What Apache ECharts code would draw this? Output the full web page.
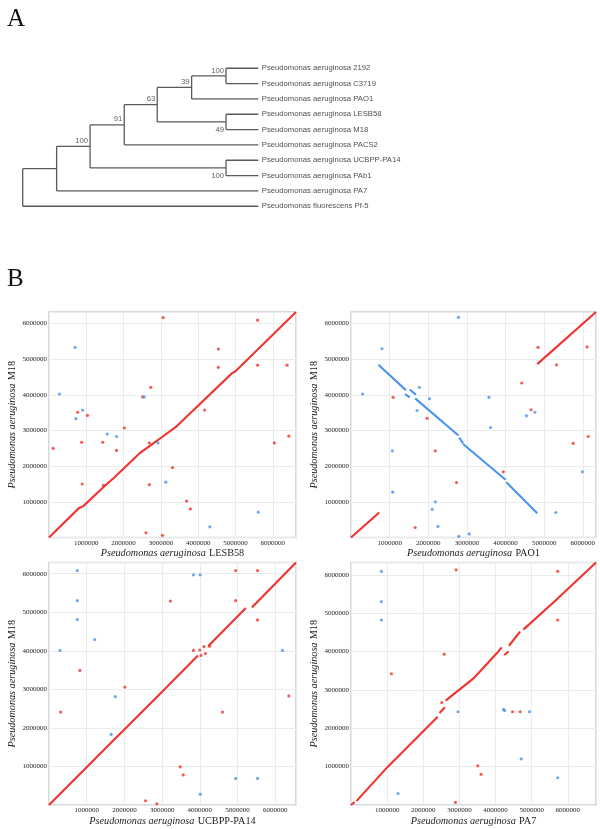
<!DOCTYPE html>
<html><head><meta charset="utf-8">
<script src="https://cdn.jsdelivr.net/npm/echarts@6/dist/echarts.min.js"></script>
<style>html,body{margin:0;padding:0;background:#fff}#c{width:600px;height:829px}</style>
</head><body><div id="c"></div><script>
// ---------- Panel A: phylogenetic tree ----------
const leafNames = [
  'Pseudomonas aeruginosa 2192',
  'Pseudomonas aeruginosa C3719',
  'Pseudomonas aeruginosa PAO1',
  'Pseudomonas aeruginosa LESB58',
  'Pseudomonas aeruginosa M18',
  'Pseudomonas aeruginosa PACS2',
  'Pseudomonas aeruginosa UCBPP-PA14',
  'Pseudomonas aeruginosa PAb1',
  'Pseudomonas aeruginosa PA7',
  'Pseudomonas fluorescens Pf-5'
];
const tipDepth = 1;
// internal nodes: depth (fraction of root-to-tip), children (leaf index or node id), bootstrap
const nodeIds      = ['n2192','n39','nLM','n63','n91','nPA14','n100','nPA7','root'];
const nodeDepths   = [0.863, 0.717, 0.863, 0.571, 0.431, 0.863, 0.286, 0.144, 0];
const nodeChildren = [[0,1],['n2192',2],[3,4],['n39','nLM'],['n63',5],[6,7],['n91','nPA14'],['n100',8],['nPA7',9]];
const nodeSupport  = ['100','39','49','63','91','100','100','',''];
const supportBelow = [false,false,true,false,false,true,false,false,false];

// ---------- Panel B: dot plots (values in Mbp) ----------
const tickValues = [1,2,3,4,5,6];
// LESB58 vs M18
const p1Fwd = [[[0,0],[0.8,0.82],[0.92,0.88],[1.5,1.45],[1.75,1.68],[2.45,2.38],[2.75,2.6],[3.05,2.83],[3.4,3.1],[4.9,4.6],[5.0,4.66],[6.62,6.32]]];
const p1Red = [[3.06,6.16],[5.59,6.09],[4.54,5.28],[4.54,4.77],[5.59,4.83],[6.38,4.83],[2.73,4.21],[2.51,3.94],[4.17,3.57],[0.77,3.51],[1.03,3.42],[2.02,3.07],[0.11,2.5],[0.875,2.67],[1.44,2.67],[1.81,2.44],[2.69,2.65],[6.43,2.84],[6.04,2.65],[3.31,1.96],[0.89,1.5],[1.46,1.46],[2.69,1.48],[3.69,1.02],[3.79,0.8],[2.6,0.13],[3.04,0.06]];
const p1Blue = [[0.7,5.33],[0.28,4.02],[2.55,3.94],[0.9,3.57],[0.72,3.33],[1.56,2.9],[1.81,2.83],[2.92,2.65],[3.13,1.55],[5.61,0.71],[4.31,0.3]];
// PAO1 vs M18
const p2Fwd = [[[0,0],[0.73,0.7]],[[4.82,4.86],[6.34,6.32]]];
const p2Rev = [[[0.71,4.84],[1.42,4.13]],[[1.4,4.02],[1.52,3.93]],[[1.52,4.15],[1.68,4.0]],[[1.66,3.9],[2.78,2.86]],[[2.8,2.8],[2.9,2.64]],[[2.9,2.62],[4.0,1.62]],[[4.02,1.55],[4.82,0.68]]];
const p2Red = [[4.84,5.33],[6.11,5.34],[5.32,4.84],[4.42,4.33],[1.09,3.93],[1.97,3.34],[4.66,3.58],[2.18,2.43],[5.75,2.64],[6.14,2.83],[3.94,1.84],[2.73,1.54],[1.66,0.28]];
const p2Blue = [[2.78,6.17],[0.8,5.29],[0.3,4.02],[1.77,4.21],[2.03,3.89],[3.57,3.93],[1.71,3.56],[4.54,3.41],[4.76,3.51],[3.61,3.08],[1.07,2.43],[1.08,1.27],[2.18,1.0],[2.1,0.79],[2.25,0.31],[2.79,0.03],[3.06,0.1],[5.3,0.7],[5.99,1.84]];
// UCBPP-PA14 vs M18
const p3Fwd = [[[0,0],[1.5,1.47],[3.0,2.94],[3.95,3.88]],[[4.22,4.12],[5.22,5.11]],[[5.38,5.12],[6.55,6.29]]];
const p3Red = [[4.95,6.08],[5.53,6.08],[3.22,5.29],[4.95,5.3],[5.53,4.8],[3.83,4.01],[0.82,3.49],[2.01,3.06],[0.31,2.41],[4.6,2.41],[6.36,2.83],[3.48,0.99],[3.56,0.78],[2.56,0.11],[2.86,0.03],[4.0,4.02],[4.11,4.11],[4.03,3.88],[4.15,3.93],[4.26,4.12]];
const p3Blue = [[0.75,6.08],[3.83,5.97],[4.01,5.97],[0.75,5.3],[0.75,4.81],[1.21,4.29],[0.29,4.01],[6.19,4.01],[1.76,2.81],[1.65,1.83],[4.95,0.69],[5.53,0.69],[4.01,0.28]];
// PA7 vs M18
const p4Fwd = [[[0,0],[0.1,0.08]],[[0.15,0.1],[1.0,0.98],[2.4,2.3]],[[2.45,2.4],[2.6,2.55]],[[2.62,2.72],[3.39,3.3],[4.04,3.96],[4.17,4.11]],[[4.24,3.91],[4.36,4.0]],[[4.37,4.15],[4.68,4.52]],[[4.77,4.57],[5.72,5.38],[6.78,6.32]]];
const p4Red = [[2.91,6.13],[5.72,6.09],[5.72,4.82],[2.58,3.93],[1.12,3.42],[2.51,2.67],[4.47,2.43],[4.68,2.43],[3.51,1.02],[3.6,0.8],[2.89,0.07]];
const p4Blue = [[0.84,6.09],[0.84,5.3],[0.84,4.82],[2.96,2.43],[4.22,2.49],[4.25,2.46],[4.94,2.43],[4.71,1.2],[5.72,0.71],[1.3,0.3]];

const xNames = ['LESB58','PAO1','UCBPP-PA14','PA7'];
const yName = 'M18';
const xMax = [6.62, 6.34, 6.55, 6.78];
const yMax = [6.32, 6.32, 6.29, 6.32];

// ---------- build ----------
const RED = '#f0332e', BLUE = '#4c93ec', TREE = '#5a5a5a';
const SERIF = '"Liberation Serif","Times New Roman",serif';
const SANS = '"Liberation Sans",Arial,sans-serif';

const nodeY = {}, nodeX = {};
function childY(c){ return typeof c === 'number' ? c : nodeY[c]; }
function childX(c){ return typeof c === 'number' ? tipDepth : nodeX[c]; }
nodeIds.forEach((id,i)=>{
  const ch = nodeChildren[i];
  nodeX[id] = nodeDepths[i];
  nodeY[id] = (childY(ch[0]) + childY(ch[ch.length-1]))/2;
});
const treeSegs = [];
nodeIds.forEach((id,i)=>{
  const ch = nodeChildren[i];
  const x = nodeX[id];
  treeSegs.push({coords:[[x, childY(ch[0])],[x, childY(ch[ch.length-1])]]});
  ch.forEach(c=>treeSegs.push({coords:[[x, childY(c)],[childX(c), childY(c)]]}));
});
const supportPts = [];
nodeIds.forEach((id,i)=>{
  if(!nodeSupport[i]) return;
  supportPts.push({value:[nodeX[id], nodeY[id]], name:nodeSupport[i],
    label:{offset:[-2, supportBelow[i] ? 8 : -5.5]}});
});

const grids = [{left:22.7, top:60.6, width:235.6, height:153.3}];
const xAxes = [{gridIndex:0, type:'value', min:0, max:1, show:false}];
const yAxes = [{gridIndex:0, type:'value', min:-0.5, max:9.5, inverse:true, show:false}];
const series = [
  {type:'lines', coordinateSystem:'cartesian2d', xAxisIndex:0, yAxisIndex:0, polyline:true, silent:true,
   lineStyle:{color:TREE, width:1.3, opacity:1}, data:treeSegs},
  {type:'scatter', xAxisIndex:0, yAxisIndex:0, symbolSize:0, silent:true,
   data:leafNames.map((n,i)=>({value:[tipDepth,i], name:n})),
   label:{show:true, position:'right', distance:3.5, formatter:p=>p.name, fontFamily:SANS, fontSize:7.7, color:'#222'}},
  {type:'scatter', xAxisIndex:0, yAxisIndex:0, symbolSize:0, silent:true, data:supportPts,
   label:{show:true, position:'inside', align:'right', verticalAlign:'middle', formatter:p=>p.name, fontFamily:SANS, fontSize:7.7, color:'#333'}}
];

const panelGrids = [
  {left:49, top:312, width:247, height:225.5},
  {left:351, top:312, width:245, height:225.5},
  {left:49, top:562.5, width:247, height:242.5},
  {left:351, top:562.5, width:245, height:242.5}
];
const panelData = [
  {fwd:p1Fwd, rev:[], red:p1Red, blue:p1Blue},
  {fwd:p2Fwd, rev:p2Rev, red:p2Red, blue:p2Blue},
  {fwd:p3Fwd, rev:[], red:p3Red, blue:p3Blue},
  {fwd:p4Fwd, rev:[], red:p4Red, blue:p4Blue}
];
const fmt = v => tickValues.includes(Math.round(v*1000)/1000) ? String(Math.round(v*1000000)) : '';
const rich = {
  i:{fontFamily:SERIF, fontStyle:'italic', fontSize:10.2, color:'#222'},
  n:{fontFamily:SERIF, fontSize:10.2, color:'#222'}
};
panelGrids.forEach((g,k)=>{
  const gi = k+1;
  grids.push(Object.assign({show:true, borderColor:'#c7ced5', borderWidth:1.5}, g));
  const common = {
    gridIndex:gi, type:'value', min:0, interval:1,
    axisLine:{show:false}, axisTick:{show:false},
    splitLine:{show:true, lineStyle:{color:'#e9ecef', width:1}},
    axisLabel:{fontFamily:SERIF, fontSize:7, color:'#222', formatter:fmt, showMinLabel:false, showMaxLabel:false},
    nameLocation:'middle', nameTextStyle:{rich:rich}
  };
  xAxes.push(Object.assign({}, common, {max:xMax[k], name:'{i|Pseudomonas aeruginosa} {n|'+xNames[k]+'}',
    nameGap: k<2 ? 6 : 10, axisLabel:Object.assign({}, common.axisLabel, {margin:2})}));
  yAxes.push(Object.assign({}, common, {max:yMax[k], name:'{i|Pseudomonas aeruginosa} {n|'+yName+'}',
    nameGap:30, nameRotate:90, axisLabel:Object.assign({}, common.axisLabel, {margin:2})}));
  const d = panelData[k];
  series.push({type:'lines', coordinateSystem:'cartesian2d', xAxisIndex:gi, yAxisIndex:gi, polyline:true, silent:true,
    lineStyle:{color:RED, width:2.1, opacity:1}, data:d.fwd.map(s=>({coords:s}))});
  if(d.rev.length) series.push({type:'lines', coordinateSystem:'cartesian2d', xAxisIndex:gi, yAxisIndex:gi, polyline:true, silent:true,
    lineStyle:{color:BLUE, width:2.1, opacity:1}, data:d.rev.map(s=>({coords:s}))});
  series.push({type:'scatter', xAxisIndex:gi, yAxisIndex:gi, symbolSize:3.2, silent:true,
    itemStyle:{color:RED}, data:d.red});
  series.push({type:'scatter', xAxisIndex:gi, yAxisIndex:gi, symbolSize:3.2, silent:true,
    itemStyle:{color:BLUE}, data:d.blue});
});

const chart = echarts.init(document.getElementById('c'), null, {renderer:'canvas'});
chart.setOption({
  animation:false,
  backgroundColor:'#fff',
  grid:grids, xAxis:xAxes, yAxis:yAxes, series:series,
  graphic:[
    {type:'text', left:7, top:7, style:{text:'A', fontFamily:SERIF, fontSize:25, fill:'#111'}},
    {type:'text', left:7, top:267, style:{text:'B', fontFamily:SERIF, fontSize:25, fill:'#111'}}
  ]
});
</script></body></html>
